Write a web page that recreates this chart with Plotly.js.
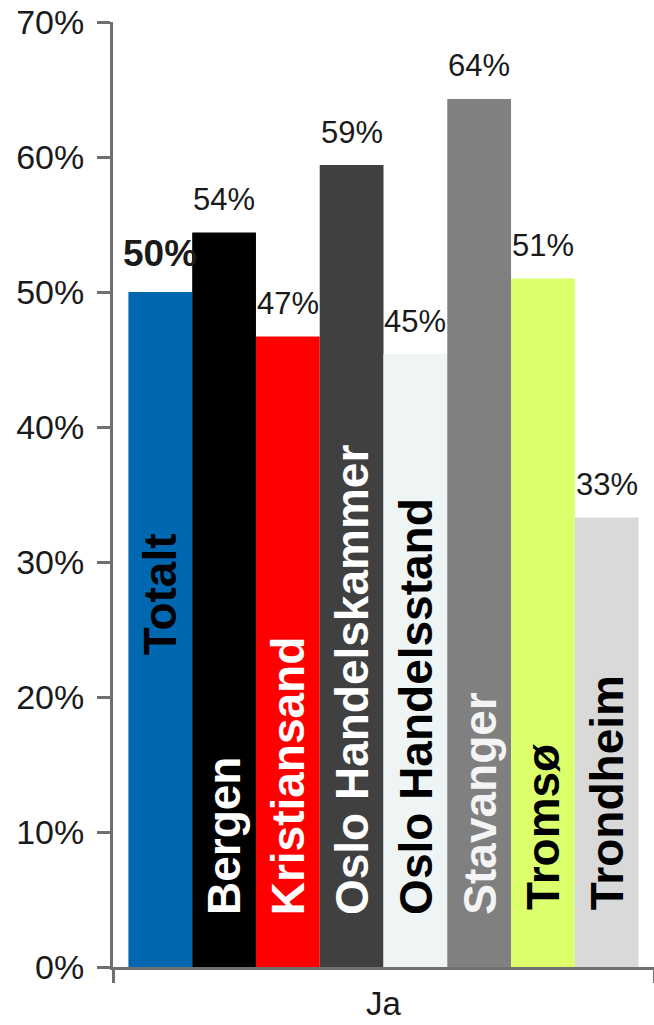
<!DOCTYPE html>
<html><head><meta charset="utf-8">
<script src="https://cdn.plot.ly/plotly-3.0.1.min.js"></script>
<style>html,body{margin:0;padding:0;background:#fff}</style>
</head><body><div id="chart" style="width:654px;height:1025px"></div>
<script>
// ---- data ----
const category = ['Ja'];
const seriesNames = ['Totalt','Bergen','Kristiansand','Oslo Handelskammer','Oslo Handelsstand','Stavanger','Tromsø','Trondheim'];
const seriesValues = [0.500,0.544,0.467,0.594,0.454,0.643,0.510,0.333];
const valueLabels = ['50%','54%','47%','59%','45%','64%','51%','33%'];
const yTickValues = [0,0.1,0.2,0.3,0.4,0.5,0.6,0.7];
const yTickLabels = ['0%','10%','20%','30%','40%','50%','60%','70%'];

// ---- styles ----
const barColors = ['#0067b1','#000000','#ff0000','#404040','#eff5f5','#808080','#dcff6c','#d9d9d9'];
const nameColors = ['#000000','#ffffff','#ffffff','#ffffff','#000000','#f4f4f4','#000000','#000000'];
const nameLift = [310,50,50,50,50,50,55,55];
const FONT = 'Liberation Sans, Arial, sans-serif';
const W = 654, H = 1025, ML = 113, MR = 0, MT = 22, MB = 58;
const BARGAP = 0.057;
const axisColor = '#707070';
const textColor = '#1a1a1a';

const n = seriesNames.length;
const barW = (W - ML - MR) * (1 - BARGAP) / n;

const traces = seriesNames.map((name, i) => ({
  type: 'bar',
  name: name,
  x: category,
  y: [seriesValues[i]],
  marker: {color: barColors[i], line: {width: 0}},
  hoverinfo: 'skip'
}));

const annotations = [];
seriesNames.forEach((name, i) => {
  const shift = (i - (n - 1) / 2) * barW;
  annotations.push({
    x: category[0], xref: 'x', y: seriesValues[i], yref: 'y',
    xshift: shift, yshift: i === 0 ? 39 : 33,
    xanchor: 'center', yanchor: 'middle',
    text: i === 0 ? '<b>' + valueLabels[i] + '</b>' : valueLabels[i],
    showarrow: false,
    font: {family: FONT, size: i === 0 ? 37 : 31, color: textColor}
  });
  annotations.push({
    x: category[0], xref: 'x', y: 0, yref: 'y',
    xshift: shift, yshift: nameLift[i],
    xanchor: 'center', yanchor: 'bottom',
    textangle: -90,
    text: '<b>' + name + '</b>',
    showarrow: false,
    font: {family: FONT, size: 46, color: nameColors[i]}
  });
});

const layout = {
  width: W, height: H,
  margin: {l: ML, r: MR, t: MT, b: MB, pad: 0},
  paper_bgcolor: '#ffffff', plot_bgcolor: '#ffffff',
  showlegend: false,
  barmode: 'group',
  bargap: BARGAP,
  bargroupgap: 0,
  font: {family: FONT, color: textColor},
  xaxis: {
    type: 'category',
    showline: true, linecolor: axisColor, linewidth: 3,
    ticks: 'outside', tickson: 'boundaries', ticklen: 13, tickwidth: 3, tickcolor: axisColor,
    ticklabelstandoff: 5,
    tickfont: {family: FONT, size: 33, color: textColor},
    showgrid: false, zeroline: false, automargin: false
  },
  yaxis: {
    range: [0, 0.7],
    tickmode: 'array', tickvals: yTickValues, ticktext: yTickLabels,
    showline: true, linecolor: axisColor, linewidth: 3,
    ticks: 'outside', ticklen: 13, tickwidth: 3, tickcolor: axisColor,
    ticklabelstandoff: 6,
    tickfont: {family: FONT, size: 34, color: textColor},
    showgrid: false, zeroline: false
  },
  annotations: annotations
};

Plotly.newPlot('chart', traces, layout, {displayModeBar: false, staticPlot: true});
</script>
</body></html>
